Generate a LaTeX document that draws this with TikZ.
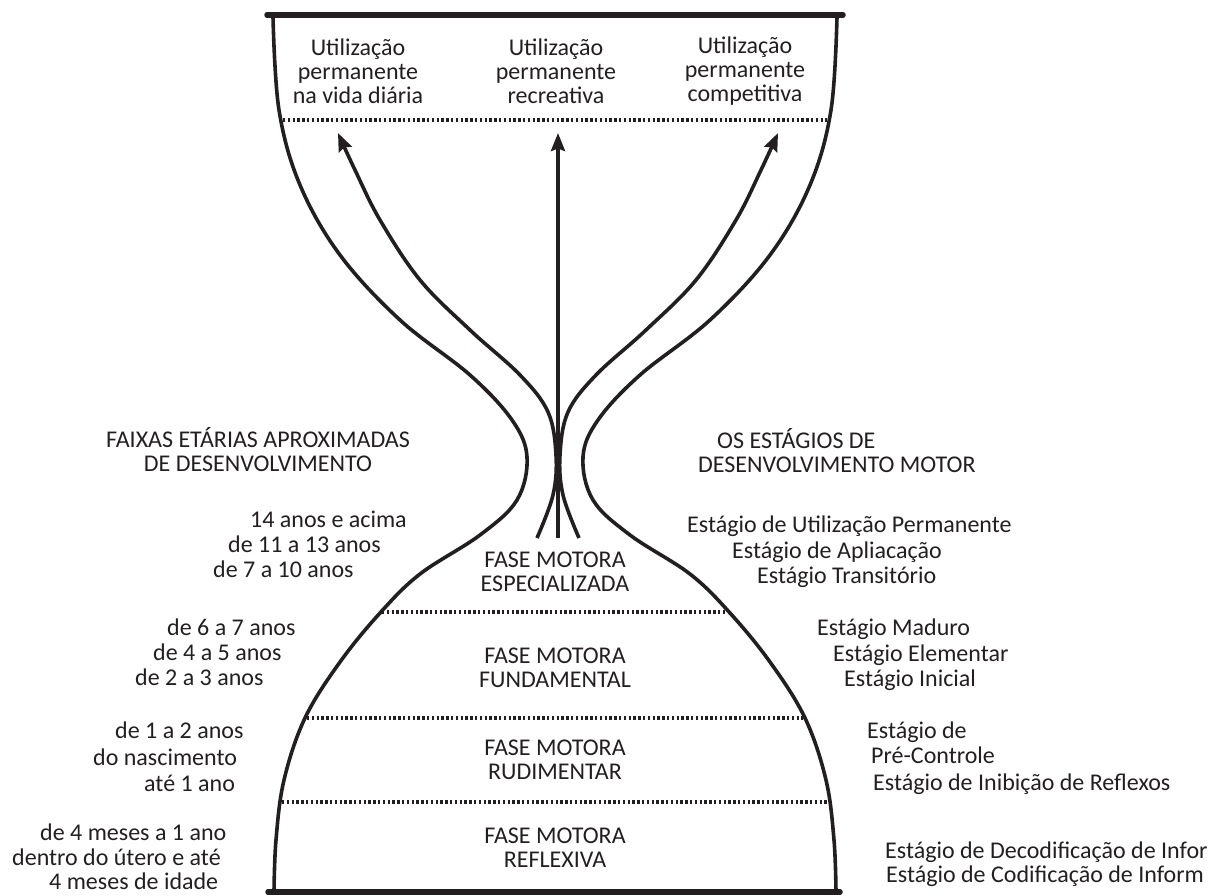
\documentclass[tikz,border=0pt]{standalone}
\usepackage{fontspec}
\setmainfont{Carlito}
\usetikzlibrary{arrows.meta}
\definecolor{ink}{HTML}{231F20}
\begin{document}
\begin{tikzpicture}[x=1pt,y=-1pt,
  wall/.style={line width=3.6pt, line cap=round, draw=ink},
  bar/.style={line width=5.5pt, line cap=round, draw=ink},
  sep/.style={line width=3.2pt, dash pattern=on 2.4pt off 2.4pt, draw=ink},
  flow/.style={line width=3.6pt, draw=ink, -{Stealth[length=18pt,width=14pt,inset=2.5pt]}},
  txt/.style={font=\fontsize{24}{25}\selectfont, text=ink, inner sep=0pt, text height=15pt, text depth=4pt},
  lbl/.style={txt, anchor=west},
  blk/.style={font=\fontsize{24}{24}\selectfont, text=ink, inner sep=0pt, align=center},
]
\useasboundingbox (0,0) rectangle (1227,895);

% bars
\coordinate (tl) at (267,15); \coordinate (tr) at (843,15);
\coordinate (bl) at (268,892); \coordinate (br) at (840,892);
\draw[bar] (tl) -- (tr);
\draw[bar] (bl) -- (br);

% walls
\draw[wall] plot[smooth, tension=0.6] coordinates {(273,17) (279,110) (300,185) (340,255) (400,320) (470,375) (512,420) (527,457) (517,500) (480,535) (420,574) (380,613) (340,662) (305,718) (284,780) (276,840) (274,892)};
\draw[wall] plot[smooth, tension=0.6] coordinates {(837,17) (831,110) (810,185) (770,255) (710,320) (640,375) (598,420) (583,457) (593,500) (630,535) (690,574) (730,613) (770,662) (805,718) (826,780) (834,840) (836,892)};

% separators
\coordinate (s1l) at (283,120); \coordinate (s1r) at (827,120);
\coordinate (s2l) at (382,612); \coordinate (s2r) at (728,612);
\coordinate (s3l) at (307,718); \coordinate (s3r) at (803,718);
\coordinate (s4l) at (282,802); \coordinate (s4r) at (828,802);
\draw[sep] (s1l) -- (s1r);
\draw[sep] (s2l) -- (s2r);
\draw[sep] (s3l) -- (s3r);
\draw[sep] (s4l) -- (s4r);

% top texts
\node[blk] (u1) at (358,71) {Utilização\\permanente\\na vida diária};
\node[blk] (u2) at (556,71) {Utilização\\permanente\\recreativa};
\node[blk] (u3) at (745,71) {Utilização\\permanente\\competitiva};

% arrows
\coordinate (c0) at (558,538); \coordinate (c1) at (558,133);
\draw[flow] (c0) -- (c1);
\draw[flow] plot[smooth, tension=0.6] coordinates {(537,538) (553,495) (556,455) (548,412) (520,375) (470,330) (420,280) (380,220) (355,170) (338,133)};
\draw[flow] plot[smooth, tension=0.6] coordinates {(579,538) (563,495) (560,455) (568,412) (596,375) (646,330) (696,280) (736,220) (761,170) (778,133)};

% phase labels
\node[blk] (f1) at (555,572) {FASE MOTORA\\ESPECIALIZADA};
\node[blk] (f2) at (555,668) {FASE MOTORA\\FUNDAMENTAL};
\node[blk] (f3) at (555,760) {FASE MOTORA\\RUDIMENTAR};
\node[blk] (f4) at (555,848) {FASE MOTORA\\REFLEXIVA};

% left column
\node[txt] (h1) at (258,442) {FAIXAS ETÁRIAS APROXIMADAS};
\node[txt] (h2) at (258,466) {DE DESENVOLVIMENTO};
\node[lbl] (a1) at (250,522) {14 anos e acima};
\node[lbl] (a2) at (228,547) {de 11 a 13 anos};
\node[lbl] (a3) at (213,572) {de 7 a 10 anos};
\node[lbl] (a4) at (167,630) {de 6 a 7 anos};
\node[lbl] (a5) at (153,655) {de 4 a 5 anos};
\node[lbl] (a6) at (135,680) {de 2 a 3 anos};
\node[lbl] (a7) at (115,733) {de 1 a 2 anos};
\node[lbl] (a8) at (93,760) {do nascimento};
\node[lbl] (a9) at (144,786) {até 1 ano};
\node[lbl] (a10) at (40,835) {de 4 meses a 1 ano};
\node[lbl] (a11) at (12,860) {dentro do útero e até};
\node[lbl] (a12) at (49,884) {4 meses de idade};

% right column
\node[lbl] (r0) at (717,443) {OS ESTÁGIOS DE};
\node[lbl] (r00) at (698,467) {DESENVOLVIMENTO MOTOR};
\node[lbl] (r1) at (687,527) {Estágio de Utilização Permanente};
\node[lbl] (r2) at (732,553) {Estágio de Apliacação};
\node[lbl] (r3) at (757,578) {Estágio Transitório};
\node[lbl] (r4) at (817,630) {Estágio Maduro};
\node[lbl] (r5) at (833,656) {Estágio Elementar};
\node[lbl] (r6) at (844,681) {Estágio Inicial};
\node[lbl] (r7) at (867,733) {Estágio de};
\node[lbl] (r8) at (871,758) {Pré-Controle};
\node[lbl] (r9) at (873,785) {Estágio de Inibição de Reflexos};
\begin{scope}
\clip (850,820) rectangle (1207,895);
\node[lbl] (r10) at (885,853) {Estágio de Decodificação de Infor};
\node[lbl] (r11) at (886,877) {Estágio de Codificação de Inform};
\end{scope}
\end{tikzpicture}
\end{document}
